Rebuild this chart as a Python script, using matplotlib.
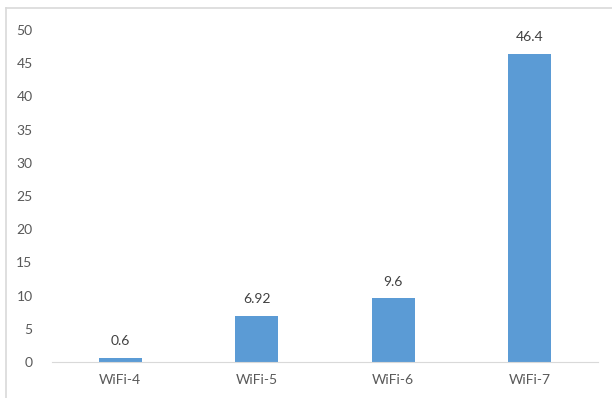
import matplotlib.pyplot as plt
from matplotlib.lines import Line2D

categories = ['WiFi-4', 'WiFi-5', 'WiFi-6', 'WiFi-7']
values = [0.6, 6.92, 9.6, 46.4]
value_labels = ['0.6', '6.92', '9.6', '46.4']

plt.rcParams['font.family'] = ['Lato', 'DejaVu Sans']

fig = plt.figure(figsize=(6.12, 3.98), dpi=100)
ax = fig.add_axes([0.085, 0.0905, 0.892, 0.834])

x = list(range(len(categories)))
bars = ax.bar(x, values, width=0.315, color='#5B9BD5')
for xi, v, lab in zip(x, values, value_labels):
    ax.text(xi, v + 1.6, lab, ha='center', va='bottom', fontsize=10, color='#404040')

ax.set_xlim(-0.5, 3.5)
ax.set_ylim(0, 50)
ax.set_yticks(range(0, 51, 5))
ax.set_xticks(x)
ax.set_xticklabels(categories)
ax.tick_params(axis='both', length=0, labelsize=10, colors='#595959')
ax.tick_params(axis='y', pad=14)
ax.tick_params(axis='x', pad=9)
for s in ['top', 'right', 'left']:
    ax.spines[s].set_visible(False)
ax.spines['bottom'].set_color('#D9D9D9')

# chart frame (cropped)
fig.add_artist(Line2D([6 / 612, 1], [1 - 8 / 398, 1 - 8 / 398], color='#D9D9D9', lw=1.2))
fig.add_artist(Line2D([6 / 612, 6 / 612], [0, 1 - 8 / 398], color='#D9D9D9', lw=1.2))

fig.savefig('out.png', dpi=100)
